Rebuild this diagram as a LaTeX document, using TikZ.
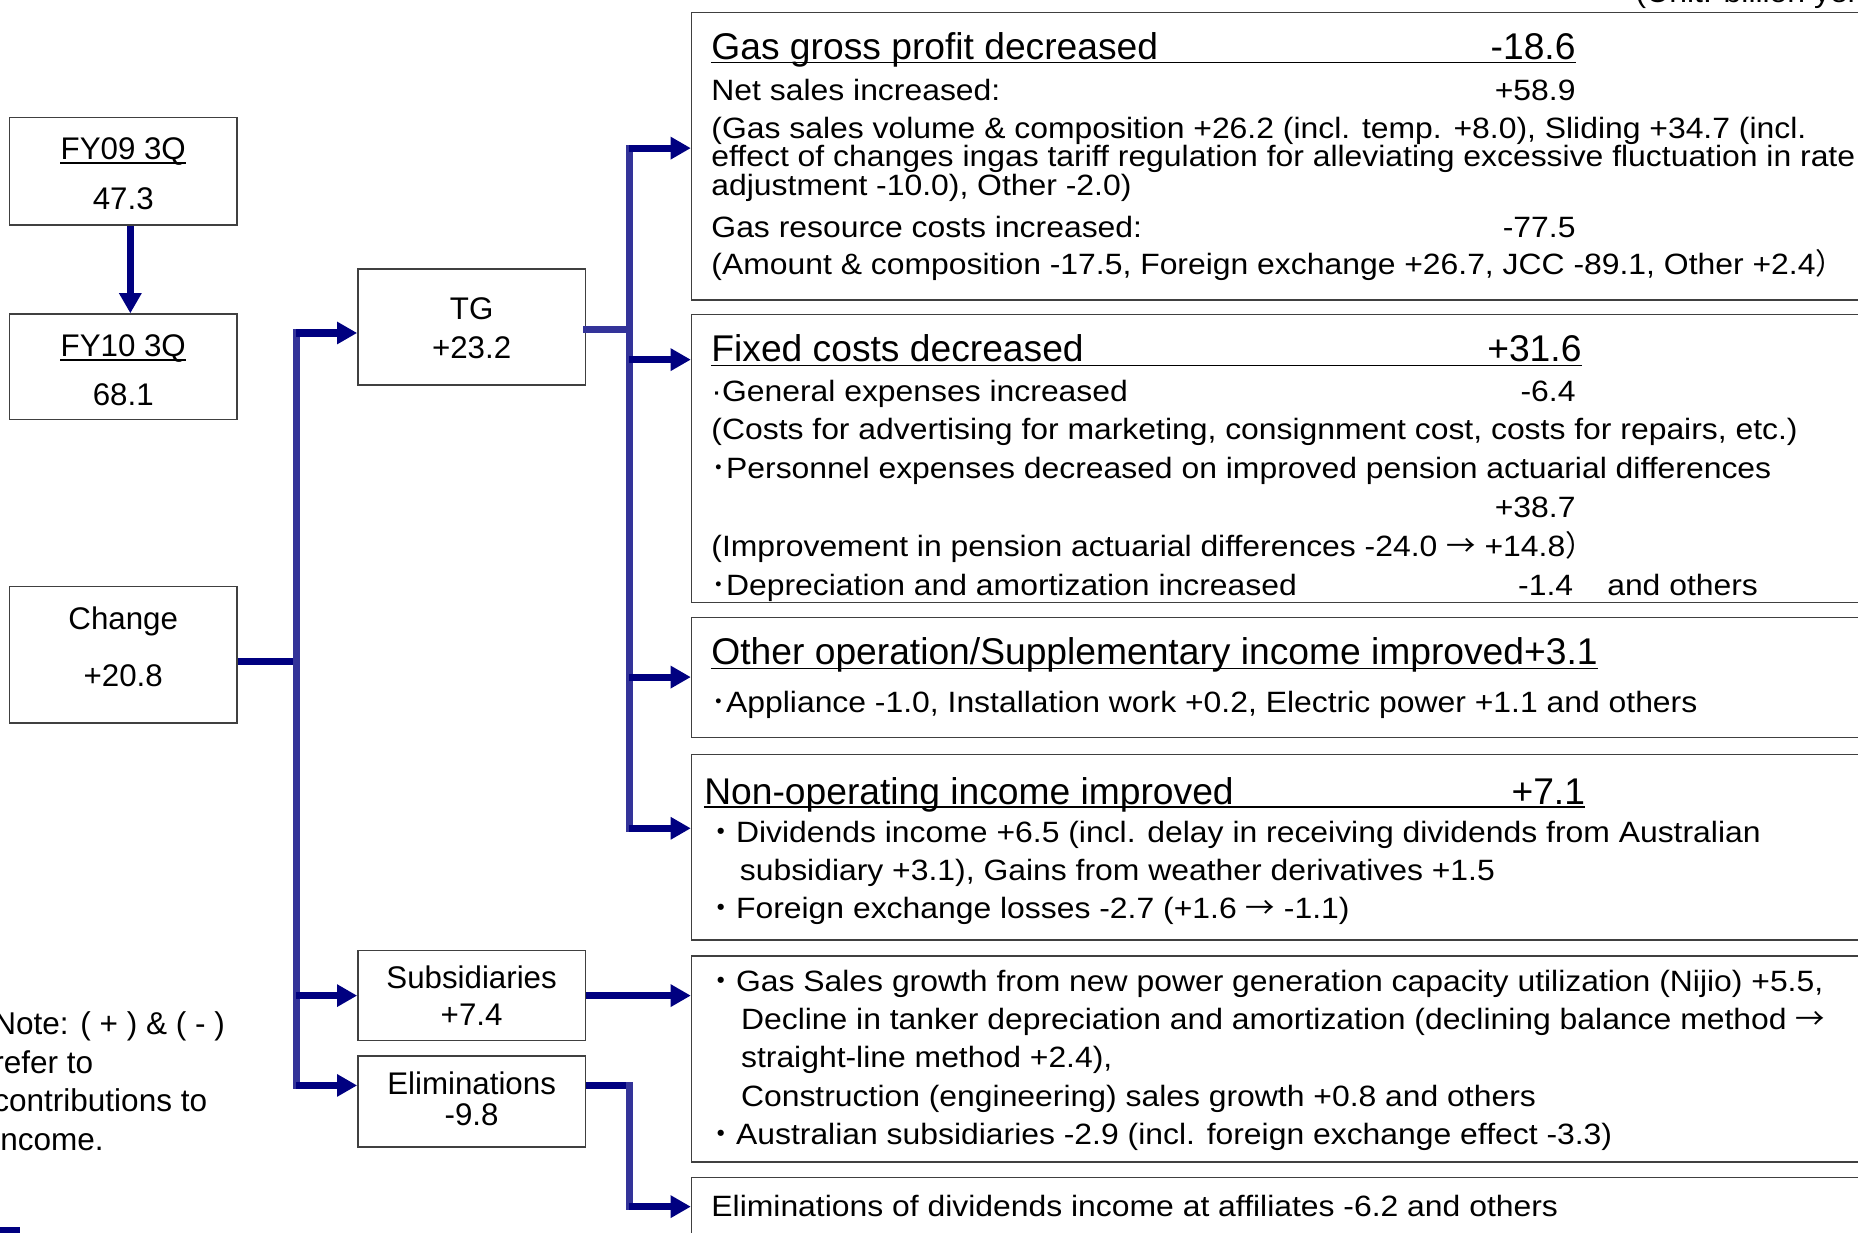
\documentclass[tikz,border=0pt]{standalone}
\usepackage{fontspec}
\setmainfont{Liberation Sans}
\newfontfamily\bodyfont[FakeStretch=1.085]{Liberation Sans}
\newfontfamily\jpfont{Noto Sans CJK JP}
\usetikzlibrary{arrows.meta,calc}
\definecolor{arrow-navy}{HTML}{000080}
\definecolor{link-blue}{HTML}{333399}
\colorlet{frame-color}{black!75}
\newcommand\jdot{{\jpfont ・}}
\newcommand\jhdot{{\jpfont ･}}
\newcommand\jparen{{\jpfont ）}}
\newcommand\jarrow{{\jpfont →}}
\tikzset{
  border/.style={draw=frame-color, line width=0.6pt, rectangle, inner sep=0pt},
  bodyline/.style={anchor=base west, inner sep=0pt, font=\bodyfont\fontsize{12.4}{15}\selectfont},
  bodynum/.style={bodyline, anchor=base east},
  headline/.style={anchor=base west, inner sep=0pt, font=\fontsize{15.7}{19}\selectfont},
  headnum/.style={headline, anchor=base east},
  boxtext/.style={anchor=base, inner sep=0pt, font=\fontsize{13.2}{16}\selectfont},
  notetext/.style={anchor=base west, inner sep=0pt, font=\fontsize{13.3}{16}\selectfont},
  uline/.style={draw=black, line width=0.7pt},
  feed/.style={draw=arrow-navy, line width=3pt},
  feedarrow/.style={feed, -{Triangle[length=8.5pt,width=9pt]}},
  trunk/.style={draw=link-blue, line width=3pt, line cap=rect},
}
\begin{document}
\begin{tikzpicture}[x=0.5pt, y=-0.5pt]
\useasboundingbox (0,0) rectangle (1568,1040);

\begin{scope}[wide/.style={minimum width=96pt}]
\node (fy09) [border, wide, minimum height=45.5pt] at (104,144.5) {};
\node (fy10) [border, wide, minimum height=44.5pt] at (104,309.5) {};
\node (chg)  [border, wide, minimum height=57.5pt] at (104,552.5) {};
\node (tg)   [border, wide, minimum height=49pt]   at (398,276) {};
\node (sub)  [border, wide, minimum height=38pt]   at (398,840) {};
\node (elim) [border, wide, minimum height=38.5pt] at (398,929.5) {};

\path (104,135)   node (fy09-t) [boxtext] {FY09 3Q}
      (104,176.7) node (fy09-v) [boxtext] {47.3}
      (104,301)   node (fy10-t) [boxtext] {FY10 3Q}
      (104,341.8) node (fy10-v) [boxtext] {68.1}
      (104,531.5) node (chg-t)  [boxtext] {Change}
      (104,579.5) node (chg-v)  [boxtext] {+20.8}
      (398,270)   node (tg-t)   [boxtext] {TG}
      (398,302.4) node (tg-v)   [boxtext] {+23.2}
      (398,833.8) node (sub-t)  [boxtext] {Subsidiaries}
      (398,865.8) node (sub-v)  [boxtext] {+7.4}
      (398,923.3) node (elim-t) [boxtext] {Eliminations}
      (398,949.4) node (elim-v) [boxtext] {-9.8}
;
\foreach \n in {fy09-t,fy10-t}
  \draw[uline, line width=0.8pt] ([yshift=-1.4pt]\n.base west) -- ([yshift=-1.4pt]\n.base east);
\end{scope}%left boxes

\foreach \t [count=\i] in {Note: ( + ) \& ( - ),refer to,contributions to,income.}
  \node (note\i) [notetext] at (-6,{873.4+32.4*(\i-1)}) {\t};
\fill[arrow-navy] (-5,1035.5) rectangle (17,1045);

\node (unit) [bodyline] at (1380,2.5) {(Unit: billion yen)};

\foreach \name/\top/\h in {gp/10/121.25,fc/265/121.35,oi/520.4/50.8,no/636/78.25,sb/806/87,el/993/40}
  \node (\name) [border, anchor=north west, minimum width=508.5pt, minimum height=\h pt] at (583,\top) {};

\path (600,50)    node (gp-t)  [headline] {Gas gross profit decreased}
      (1330,50)   node (gp-n)  [headnum]  {-18.6}
      (600,84.4)  node (gp-1)  [bodyline] {Net sales increased:}
      (1330,84.4) node (gp-1n) [bodynum]  {+58.9}
      (600,116.7) node (gp-2)  [bodyline] {(Gas sales volume \& composition +26.2 (incl. temp. +8.0), Sliding +34.7 (incl.}
      (600,140.7) node (gp-3)  [bodyline] {effect of changes ingas tariff regulation for alleviating excessive fluctuation in rate}
      (600,165)   node (gp-4)  [bodyline] {adjustment -10.0), Other -2.0)}
      (600,200)   node (gp-5)  [bodyline] {Gas resource costs increased:}
      (1330,200)  node (gp-5n) [bodynum]  {-77.5}
      (600,232)   node (gp-6)  [bodyline] {(Amount \& composition -17.5, Foreign exchange +26.7, JCC -89.1, Other +2.4\jparen}
;
\draw[uline] ([yshift=-1.4pt]gp-t.base west) -- ([yshift=-1.4pt]gp-n.base east);

\path (600,305.3)  node (fc-t)  [headline] {Fixed costs decreased}
      (1335,305.3) node (fc-n)  [headnum]  {+31.6}
      (600,338.5)  node (fc-1)  [bodyline] {·General expenses increased}
      (1330,338.5) node (fc-1n) [bodynum]  {-6.4}
      (600,371.3)  node (fc-2)  [bodyline] {(Costs for advertising for marketing, consignment cost, costs for repairs, etc.)}
      (600,404.1)  node (fc-3)  [bodyline] {\jhdot Personnel expenses decreased on improved pension actuarial differences}
      (1330,436.9) node (fc-3n) [bodynum]  {+38.7}
      (600,469.7)  node (fc-4)  [bodyline] {(Improvement in pension actuarial differences -24.0 \jarrow\ +14.8\jparen}
      (600,502.5)  node (fc-5)  [bodyline] {\jhdot Depreciation and amortization increased}
      (1328,502.5) node (fc-5n) [bodynum]  {-1.4}
      (1356,502.5) node (fc-5o) [bodyline] {and others}
;
\draw[uline] ([yshift=-1.5pt]fc-t.base west) -- ([yshift=-1.5pt]fc-n.base east);

\path (600,561) node (oi-t) [headline] {Other operation/Supplementary income improved+3.1}
      (600,601) node (oi-1) [bodyline] {\jhdot Appliance -1.0, Installation work +0.2, Electric power +1.1 and others}
;
\draw[uline] ([yshift=-1.6pt]oi-t.base west) -- ([yshift=-1.6pt]oi-t.base east);

\path (594,678.5)  node (no-t) [headline] {Non-operating income improved}
      (1338,678.5) node (no-n) [headnum]  {+7.1}
      (596,710.6)  node (no-1) [bodyline] {\jdot Dividends income +6.5 (incl. delay in receiving dividends from Australian}
      (624,743)    node (no-2) [bodyline] {subsidiary +3.1), Gains from weather derivatives +1.5}
      (596,775.5)  node (no-3) [bodyline] {\jdot Foreign exchange losses -2.7 (+1.6 \jarrow\ -1.1)}
;
\draw[uline] ([yshift=-1.4pt]no-t.base west) -- ([yshift=-1.4pt]no-n.base east);

\path (596,837)   node (sb-1) [bodyline] {\jdot Gas Sales growth from new power generation capacity utilization (Nijio) +5.5,}
      (625,869)   node (sb-2) [bodyline] {Decline in tanker depreciation and amortization (declining balance method \jarrow}
      (625,901)   node (sb-3) [bodyline] {straight-line method +2.4),}
      (625,933.5) node (sb-4) [bodyline] {Construction (engineering) sales growth +0.8 and others}
      (596,966)   node (sb-5) [bodyline] {\jdot Australian subsidiaries -2.9 (incl. foreign exchange effect -3.3)}
;

\node (el-1) [bodyline] at (600,1027) {Eliminations of dividends income at affiliates -6.2 and others};

% connectors
\coordinate (cj) at (250,558);
\coordinate (tg-in) at (250,281);
\coordinate (sub-in) at (250,840.2);
\coordinate (elim-in) at (250,916);
\draw[feedarrow] ([xshift=3pt]fy09.south) -- ([xshift=3pt]fy10.north);
\draw[feed] (chg.east |- cj) -- (cj);
\draw[trunk] (tg-in) -- (elim-in);
\foreach \b in {tg,sub,elim}
  \draw[feedarrow] (\b-in) -- (\b-in -| \b.west);

\coordinate (tg-out) at (531,278);
\coordinate (gp-in) at (531,125);
\coordinate (fc-in) at (531,303.5);
\coordinate (oi-in) at (531,571.4);
\coordinate (no-in) at (531,699);
\draw[trunk] (tg.east |- tg-out) -- (tg-out);
\draw[trunk] (gp-in) -- (no-in);
\foreach \b in {gp,fc,oi,no}
  \draw[feedarrow] (\b-in) -- (\b-in -| \b.west);

\draw[feedarrow] (sub.east |- sub-in) -- (sub-in -| sb.west);

\coordinate (elim-bend) at (531,916);
\coordinate (el-in) at (531,1018.3);
\draw[feed] (elim.east |- elim-bend) -- (elim-bend);
\draw[trunk] (elim-bend) -- (el-in);
\draw[feedarrow] (el-in) -- (el-in -| el.west);

\end{tikzpicture}
\end{document}
